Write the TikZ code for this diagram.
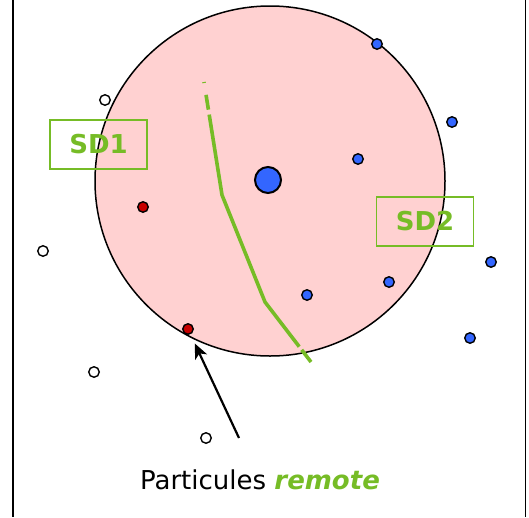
\documentclass[tikz,border=0pt]{standalone}
\usepackage{fontspec}
\setmainfont{DejaVu Sans}
\usetikzlibrary{arrows.meta}
\definecolor{sdgreen}{RGB}{118,188,38}
\definecolor{zonepink}{RGB}{255,209,209}
\definecolor{partblue}{RGB}{51,102,255}
\definecolor{partred}{RGB}{200,0,0}

\begin{document}
\begin{tikzpicture}[x=1pt,y=-1pt,>={Stealth[length=15pt,width=13pt,inset=4pt]},
    part/.style={circle,draw=black,line width=1.4pt,inner sep=0pt,minimum size=10.5pt},
    bluepart/.style={part,fill=partblue},
    redpart/.style={part,fill=partred},
    whitepart/.style={part,fill=white},
    sdbox/.style={draw=sdgreen,line width=1.8pt,minimum width=97pt,minimum height=49pt,
      text=sdgreen,font=\fontsize{26}{30}\selectfont\bfseries}]

      \useasboundingbox (0,0) rectangle (529,517);
      \draw[line width=1.8pt] (13,0) -- (13,517) (525.5,0) -- (525.5,517);

      % cut-off zone
      \draw[fill=zonepink,line width=1.5pt] (270,181) circle (175);

      % frontier between the sub-domains
      \draw[sdgreen,line width=3.6pt,dash pattern=on 1pt off 12pt on 15pt off 5pt on 253pt off 4pt on 100pt]
      (204,82) -- (222,195) -- (265,302) -- (311,362);

      \node[sdbox] (sd1) at (98.5,144.5) {SD1};
      \node[sdbox] (sd2) at (425,221.5) {SD2};

      \node[part,fill=partblue,line width=2pt,minimum size=26pt] (c) at (268,180) {};

      \node[bluepart] (b1) at (377,44) {};
      \node[bluepart] (b2) at (452,122) {};
      \node[bluepart] (b3) at (358,159) {};
      \node[bluepart] (b4) at (491,262) {};
      \node[bluepart] (b5) at (389,282) {};
      \node[bluepart] (b6) at (307,295) {};
      \node[bluepart] (b7) at (470,338) {};

      \node[redpart] (r1) at (143,207) {};
      \node[redpart] (r2) at (188,329) {};

      \node[whitepart] (w1) at (105,100) {};
      \node[whitepart] (w2) at (43,251) {};
      \node[whitepart] (w3) at (94,372) {};
      \node[whitepart] (w4) at (206,438) {};

      \node[anchor=base,font=\fontsize{26}{30}\selectfont] (lbl) at (260,489)
        {Particules \textcolor{sdgreen}{\bfseries\itshape remote}};
      \coordinate (tail) at (239,438);

      \path[->,line width=2.2pt]
      (tail) edge [shorten >=10pt] (r2);
\end{tikzpicture}
\end{document}
